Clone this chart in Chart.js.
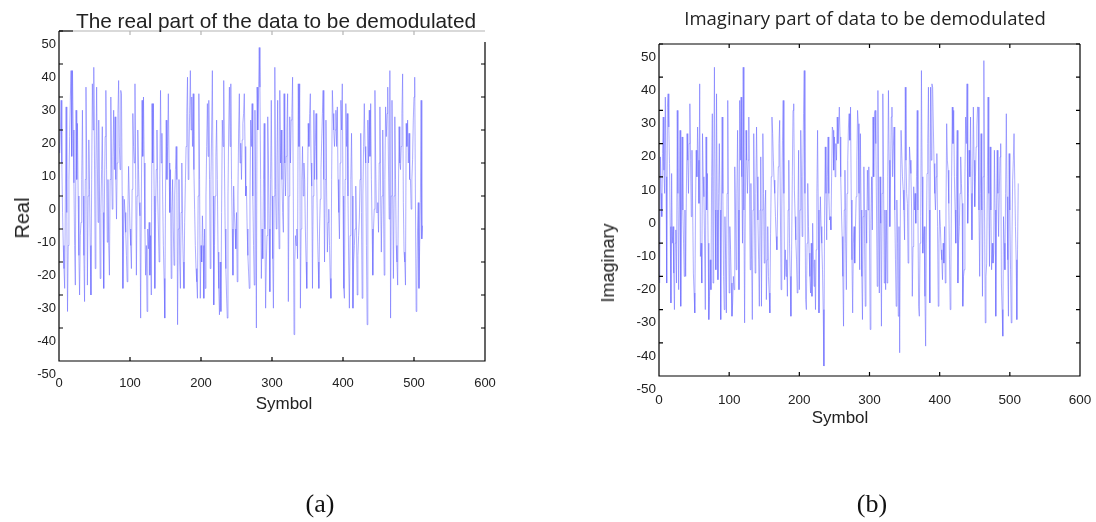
<!DOCTYPE html>
<html>
<head>
<meta charset="utf-8">
<script src="https://cdn.jsdelivr.net/npm/chart.js@4.4.0/dist/chart.umd.min.js"></script>
<style>
  body { margin: 0; background: #fff; }
  #page { position: relative; width: 1096px; height: 522px; overflow: hidden; font-family: "Liberation Sans", Arial, sans-serif; color: #222; }
  canvas { position: absolute; top: 0; }
  .txt { position: absolute; white-space: nowrap; line-height: 1; transform: translate(-50%, -50%); }
  .rot { transform: translate(-50%, -50%) rotate(-90deg); }
  .cap { font-family: "Liberation Serif", "Times New Roman", serif; font-size: 26px; color: #111; }
</style>
</head>
<body>
<div id="page">
  <canvas id="realChart" width="548" height="440" style="left:0"></canvas>
  <canvas id="imagChart" width="548" height="440" style="left:548px"></canvas>

  <div class="txt" style="left:276px; top:21px; font-size:20.8px;">The real part of the data to be demodulated</div>
  <div class="txt rot" style="left:22px; top:218px; font-size:20px;">Real</div>
  <div class="txt" style="left:284px; top:403px; font-size:17px;">Symbol</div>

  <div class="txt" style="left:865px; top:18px; font-size:18.5px; font-family:'Open Sans', sans-serif;">Imaginary part of data to be demodulated</div>
  <div class="txt rot" style="left:608px; top:263px; font-size:18px;">Imaginary</div>
  <div class="txt" style="left:840px; top:417px; font-size:17px;">Symbol</div>

  <div class="txt cap" style="left:320px; top:504px;">(a)</div>
  <div class="txt cap" style="left:872px; top:504px;">(b)</div>
</div>

<script>
// Real part, one value per received symbol
const realPart = [
  13, 20, 29, 10, -5, -15, -22, -28, 0, 27,
  -5, -35, -15, 5, 18, 30, 38, 12, 38, 20,
  4, -15, -27, 26, 5, 22, 0, -18, -30, -12,
  -8, 5, 26, 0, -18, -32, 5, 33, 10, -27,
  0, 17, 2, -15, -30, 5, 34, 20, 39, 10,
  -22, 8, 33, 10, -8, 23, 0, -25, -5, 8,
  21, -5, -28, 0, 18, 32, 8, -14, 5, -15,
  -24, 5, 30, 10, -4, 12, 26, 8, 24, 5,
  -7, 10, 25, 35, 15, 8, 32, 31, 0, -28,
  -12, -1, -5, -11, -18, -26, -5, 9, 0, -10,
  -15, -22, 2, 25, 15, 10, 34, 5, -24, 0,
  20, 8, -2, -6, -37, 0, 29, 12, 30, 10,
  -10, -24, -15, -35, -10, -16, -8, -24, -12, -30,
  28, 10, 28, 0, -28, -5, 8, 20, 0, -10,
  -20, 5, 32, 10, 19, 0, -15, -25, -37, 0,
  23, 5, 15, 31, 10, -5, 8, -25, -5, 5,
  -10, -21, 0, 8, 15, 5, -39, -10, 5, -20,
  -28, -5, 10, -10, -20, -28, -8, 4, 15, 25,
  36, 5, 13, 25, 38, 20, 30, 15, 31, 8,
  -4, -15, -22, -26, -31, 0, 31, 5, -31, -15,
  -20, -6, -15, -31, -10, -28, 0, 15, 28, 12,
  29, 5, -22, 5, 20, 38, 0, -33, -15, 0,
  12, 23, 5, -17, -28, -36, -20, -35, -5, 23,
  15, 35, 10, -10, -22, -30, -37, 0, 20, 33,
  15, 34, 5, -10, -24, 3, -5, -10, -16, -5,
  -26, 0, 20, 31, 10, 16, 5, 17, 22, 25,
  31, 15, 0, 3, -10, -18, -23, -28, 0, 23,
  15, 28, 0, -15, -27, 26, 0, -40, 33, 20,
  30, 45, 33, 5, -25, -10, -19, 5, 22, -10,
  -34, -20, -12, 24, 10, -10, -29, 5, 29, 0,
  -19, -34, 0, 39, 2, -10, 10, 29, 0, -16,
  32, 10, 20, 5, -5, -11, 31, 10, 0, 12,
  20, 31, -32, 0, 24, 10, 23, 25, 36, 0,
  -42, -20, -12, -15, -10, -19, 34, 15, 34, -34,
  -10, 5, 15, 0, 10, 5, -10, -20, -28, 0,
  22, 15, 25, 31, 10, 3, -28, 0, 26, 5,
  15, 25, 5, -10, -20, -28, -10, -1, 8, 17,
  25, 32, 5, -20, 5, 23, 0, -17, -8, -4,
  -15, -25, -31, 5, 32, 25, 20, 15, 20, 26,
  15, 27, 5, -5, -13, 10, 29, 20, 34, 0,
  -28, -31, 5, 28, 15, 25, 0, -20, -34, -12,
  5, 19, 0, -34, -20, -15, -10, 3, -10, -30,
  -18, -12, -7, 5, 19, -5, -31, 0, 15, 28,
  15, 10, -15, -39, 23, 10, 26, 12, 28, 5,
  -10, -24, -10, -4, 32, 10, -5, -5, -2, -11,
  10, 27, 0, -17, 0, 20, 0, -24, 5, 27,
  18, 25, 33, 10, -7, 38, -37, 0, 29, 0,
  -25, 0, 24, 5, -15, -20, -27, 0, 21, 10,
  8, 15, 25, 37, -2, -17, -20, -27, 22, 15,
  23, 10, 19, 5, 5, -4, 5, 11, 23, 30,
  36, 0, -35, -28, -10, -2, -28, -15, -2, 29,
  -13, -9
];

// Imaginary part (right panel)
const imagPart = [
  -22, 16, 5, -2, 17, 28, 12, 5, 34, 10,
  -22, 31, 35, 25, 14, -5, -28, 11, -10, -5,
  -19, -30, -10, -6, -22, 30, 5, -24, 0, 24,
  -29, 0, 22, 0, -10, -20, 0, -20, 5, 23,
  15, 5, 20, 32, 15, -2, 18, 0, -19, -25,
  -31, 0, 18, 10, 25, 15, 2, 38, -14, -10,
  -22, 23, 10, 4, -10, -30, 22, 0, 11, -10,
  -33, -26, -15, -24, 10, 29, -22, 10, 43, 0,
  -18, 35, 0, -21, 5, 20, 0, -33, 0, 28,
  5, -20, -30, -2, -15, -31, 5, 33, 0, -25,
  -5, -12, -22, -32, -28, -20, -24, 13, 0, -18,
  5, 24, 0, -24, 33, 15, 34, 10, -10, 43,
  0, -34, 0, 24, 15, 5, 15, 28, 5, -18,
  8, -15, -33, 0, 23, 0, -19, 5, 25, 10,
  -3, -15, -29, 0, 16, -29, 0, 23, 5, -16,
  0, 6, -27, -15, -5, -20, -25, -31, -7, 10,
  28, 23, 15, 9, 5, -2, -8, -12, 0, 13,
  20, 27, 0, -24, 0, 21, 33, 5, -21, -12,
  -20, -15, -26, 0, 15, -10, -20, -32, -12, 10,
  30, 32, 6, -2, -9, -15, -25, 0, 18, -24,
  0, 24, 10, -8, 10, 29, 42, 5, -27, -30,
  -10, 8, -5, -13, -20, -25, -10, -26, -4, -15,
  -23, -15, -30, -12, 5, 24, 0, -31, -10, 4,
  -5, -10, -18, -30, -47, 0, 19, 5, -9, 10,
  22, 5, -3, -2, -6, 10, 25, 24, 12, 22,
  10, 20, 15, 28, 20, 25, 31, 22, 10, 0,
  -8, -20, -35, 0, 12, -10, -24, 5, 15, 25,
  29, 21, 31, 3, -15, -31, -10, -5, -16, -5,
  4, 15, 30, 26, 5, -18, 23, 0, -20, -33,
  -2, 13, -10, -29, 0, -10, 12, 0, 13, -10,
  -36, -4, 10, -6, 28, 10, 29, 30, 20, 0,
  -23, 36, 0, -25, 10, -4, -35, 5, 35, 10,
  -22, 0, -24, 0, -22, 10, 36, 15, -5, 10,
  28, 31, 10, 19, 25, 0, -15, -29, 3, -10,
  -32, -5, -43, 0, 24, 24, 10, 6, 0, -9,
  37, 15, 5, 2, -16, 0, 19, 15, 11, 0,
  -26, -11, 7, 0, 5, -4, 10, 30, 0, -29,
  -32, -10, -2, 42, 10, -13, -8, -5, -26, -41,
  -10, 11, 20, 37, 0, -28, 37, 15, 38, 37,
  25, 14, 5, 0, 10, 17, -5, -29, -10, 0,
  -5, -12, -15, -21, -10, -16, -5, -22, 0, 26,
  15, 12, 2, -15, -30, -18, 10, 31, 20, 30,
  10, 0, -10, 10, 24, -22, -10, -5, 5, 16,
  8, 2, -29, -20, -18, 10, 28, 20, 38, -4,
  5, 18, 10, 28, 5, -9, 10, 31, 15, 1,
  10, 19, 25, 31, 31, 0, -20, 5, 23, 0,
  -26, 10, 45, 0, -34, -20, -16, 10, 34, 5,
  -17, 19, 0, -18, -10, -16, -13, 18, 0, -32,
  0, 18, 5, -8, 5, 16, 20, -22, -30, -38,
  -2, -10, -18, 5, 29, 4, -15, -32, 17, 0,
  -18, -34, -10, 9, 15, 23, 23, -5, -15, -33,
  -12, 8
];

const symbols = realPart.map((_, i) => i + 1);
const xTicks = [0, 100, 200, 300, 400, 500, 600];
const yTicks = [-50, -40, -30, -20, -10, 0, 10, 20, 30, 40, 50];

const lineColor = "rgba(105, 105, 255, 0.55)";

// Box round the plot with small inward tick marks
const framePlugin = {
    id: "frame",
    afterDatasetsDraw(chart, args, opts) {
        const { ctx, chartArea: a, scales } = chart;
        const len = 4;
        ctx.save();
        ctx.lineWidth = 1.2;
        ctx.strokeStyle = "#000";

        ctx.beginPath();
        ctx.moveTo(a.left, a.top);
        ctx.lineTo(a.left, a.bottom);
        ctx.lineTo(a.right, a.bottom);
        ctx.lineTo(a.right, a.top + opts.rightGap);
        scales.y.ticks.forEach(t => {
            const py = scales.y.getPixelForValue(t.value);
            ctx.moveTo(a.left, py);
            ctx.lineTo(a.left + len, py);
            if (py >= a.top + opts.rightGap) {
                ctx.moveTo(a.right, py);
                ctx.lineTo(a.right - len, py);
            }
        });
        scales.x.ticks.forEach(t => {
            const px = scales.x.getPixelForValue(t.value);
            ctx.moveTo(px, a.bottom);
            ctx.lineTo(px, a.bottom - len);
        });
        ctx.stroke();

        // top edge
        ctx.beginPath();
        ctx.moveTo(a.left, a.top);
        ctx.lineTo(a.left + opts.topBlack, a.top);
        ctx.stroke();
        ctx.strokeStyle = opts.topColor;
        ctx.beginPath();
        ctx.moveTo(a.left + opts.topBlack, a.top);
        ctx.lineTo(a.right, a.top);
        scales.x.ticks.forEach(t => {
            const px = scales.x.getPixelForValue(t.value);
            if (px > a.left + opts.topBlack && px < a.right) {
                ctx.moveTo(px, a.top);
                ctx.lineTo(px, a.top + len);
            }
        });
        ctx.stroke();
        ctx.restore();
    }
};

function makeChart(id, values, cfg) {
    const font = { family: "'Liberation Sans', Arial, sans-serif", size: cfg.fontSize };
    return new Chart(document.getElementById(id), {
        type: "line",
        data: {
            datasets: [{
                data: values.map((v, i) => ({ x: symbols[i], y: v })),
                borderColor: lineColor,
                borderWidth: 1,
                pointRadius: 0,
                tension: 0
            }]
        },
        options: {
            responsive: false,
            animation: false,
            devicePixelRatio: 1,
            layout: { padding: { top: cfg.top, right: cfg.right, left: 0, bottom: 0 } },
            plugins: {
                legend: { display: false },
                tooltip: { enabled: false },
                frame: cfg.frame
            },
            scales: {
                x: {
                    type: "linear", min: 0, max: 600,
                    afterBuildTicks: s => { s.ticks = xTicks.map(v => ({ value: v })); },
                    afterFit: s => { s.height = cfg.xHeight; },
                    // invisible tick marks only push the labels down
                    grid: { drawOnChartArea: false, drawTicks: true, tickLength: cfg.xGap, color: "rgba(0,0,0,0)" },
                    border: { display: false },
                    ticks: { padding: 0, font, color: "#222", maxRotation: 0, autoSkip: false }
                },
                y: {
                    type: "linear", min: -50, max: 50,
                    afterBuildTicks: s => { s.ticks = yTicks.map(v => ({ value: v })); },
                    afterFit: s => { s.width = cfg.yWidth; },
                    grid: { drawOnChartArea: false, drawTicks: false },
                    border: { display: false },
                    ticks: { padding: 3, labelOffset: 13, font, color: "#222", autoSkip: false }
                }
            }
        },
        plugins: [framePlugin]
    });
}

makeChart("realChart", realPart, {
    top: 31, right: 63, yWidth: 59, xHeight: 79, xGap: 15, fontSize: 13,
    frame: { topColor: "#b4b4b4", topBlack: 14, rightGap: 11 }
});

makeChart("imagChart", imagPart, {
    top: 44, right: 16, yWidth: 111, xHeight: 64, xGap: 16, fontSize: 13.5,
    frame: { topColor: "#000", topBlack: 0, rightGap: 0 }
});
</script>
</body>
</html>
